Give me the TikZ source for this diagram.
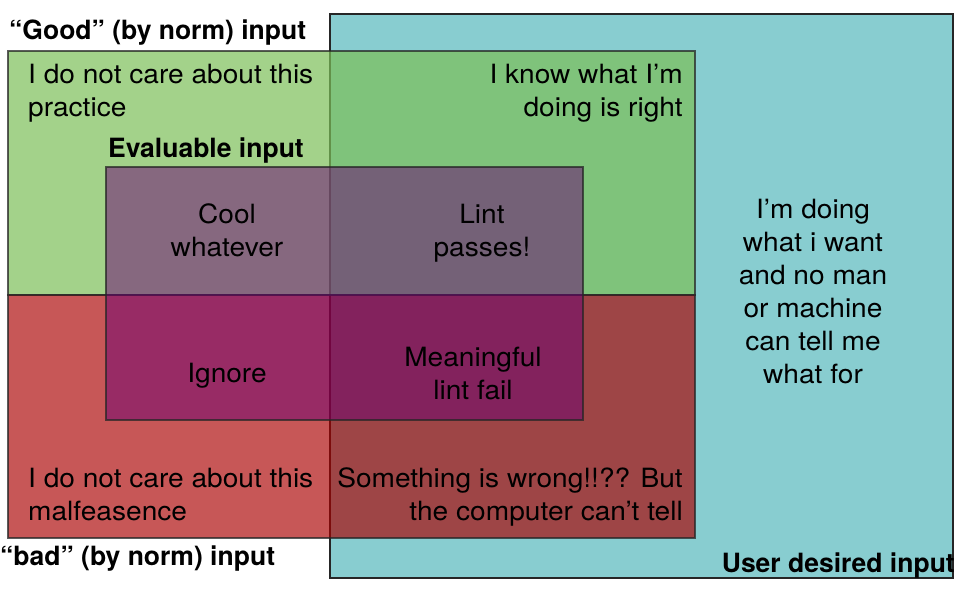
\documentclass[tikz,border=0pt]{standalone}
\usepackage{fontspec}
\setmainfont{TeX Gyre Heros}[FakeStretch=1.06]
\newfontfamily\headfont{TeX Gyre Heros}
\usetikzlibrary{positioning}

\definecolor{usercyan}{RGB}{136,205,208}
\definecolor{goodgreen}{RGB}{124,191,88}
\definecolor{badred}{RGB}{170,0,0}
\definecolor{evalpurple}{RGB}{106,0,117}

\tikzset{
	region/.style={draw=black!85, line width=1.5pt, draw opacity=0.75},
	lbl/.style={inner sep=0pt, font=\fontsize{26.5}{33}\selectfont},
	head/.style={inner sep=0pt, font=\headfont\fontsize{26.5}{33}\selectfont\bfseries},
}

\begin{document}
\begin{tikzpicture}[x=1pt,y=-1pt]
	\useasboundingbox (0,0) rectangle (966,592);
	% the four sets
	\filldraw[region, fill=usercyan, draw opacity=1] (330,14) rectangle (953,578);
	\filldraw[region, fill=goodgreen, fill opacity=0.7] (8,51) rectangle (695,295);
	\filldraw[region, fill=badred, fill opacity=0.66] (8,295) rectangle (695,538);
	\filldraw[region, fill=evalpurple, fill opacity=0.5] (106,167) rectangle (583,420);
	% set names
	\node[head, anchor=base west] (goodname) at (9,39) {“Good” (by norm) input};
	\node[head, anchor=base west] (evalname) at (108,157) {Evaluable input};
	\node[head, anchor=base west] (badname) at (0,565) {“bad” (by norm) input};
	\node[head, anchor=base east] (username) at (955,572) {User desired input};
	% the cells (base = last line)
	\node[lbl, anchor=base west, align=left] (goodonly) at (28,116) {I do not care about this\\practice};
	\node[lbl, anchor=base east, align=right] (gooduser) at (683,116) {I know what I’m\\doing is right};
	\node[lbl, anchor=base, align=center] (goodeval) at (227,256) {Cool\\whatever};
	\node[lbl, anchor=base, align=center] (goodevaluser) at (482,256) {Lint\\passes!};
	\node[lbl, anchor=base, align=center] (badeval) at (227,382) {Ignore};
	\node[lbl, anchor=base, align=center] (badevaluser) at (473,399) {Meaningful\\lint fail};
	\node[lbl, anchor=base, align=center] (useronly) at (813,383) {I’m doing\\what i want\\and no man\\or machine\\can tell me\\what for};
	\node[lbl, anchor=base west, align=left] (badonly) at (28,520) {I do not care about this\\malfeasence};
	\node[lbl, anchor=base east, align=right] (baduser) at (683,520) {Something is wrong!!?? But\\the computer can’t tell};
\end{tikzpicture}
\end{document}
